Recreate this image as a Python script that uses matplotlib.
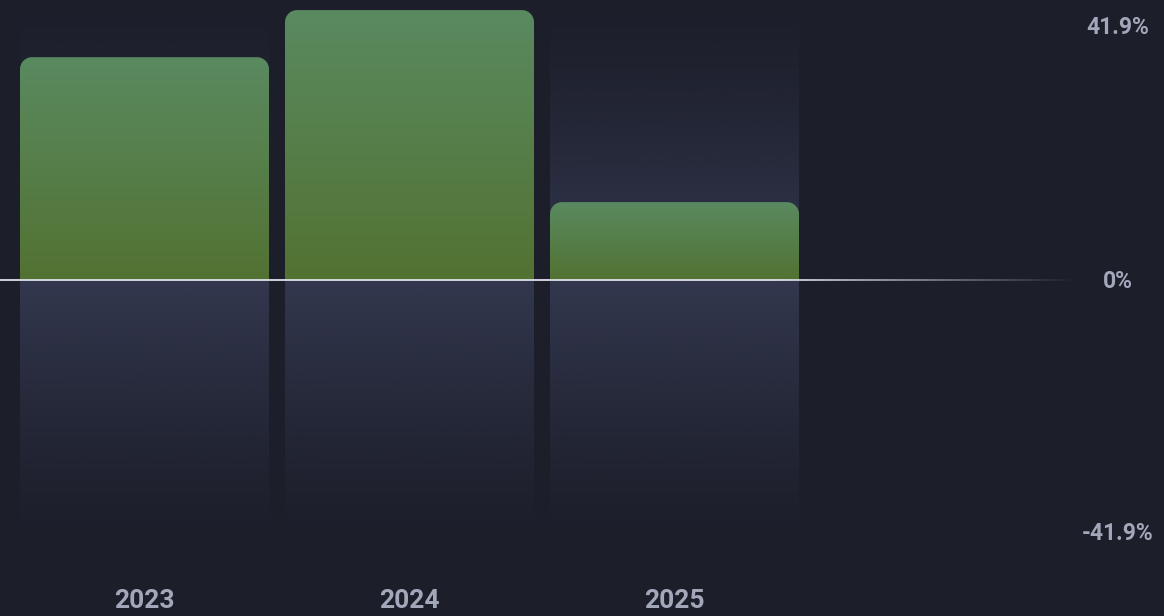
import matplotlib.pyplot as plt
import numpy as np
from matplotlib.path import Path
from matplotlib.patches import PathPatch
from matplotlib.collections import LineCollection

tahun = ["2023", "2024", "2025"]
nilai = [36.9, 44.7, 12.9]
label_y = [41.9, 0, -41.9]
teks_y = ["41.9%", "0%", "-41.9%"]

bg = "#1c1e2a"
warna_teks = "#a3a7ba"

fig = plt.figure(figsize=(11.64, 6.16), dpi=100, facecolor=bg)
ax = fig.add_axes([0, 0, 1, 1])
ax.set_facecolor(bg)

px_x = 1 / 265.0          # data units per pixel (x)
px_y = 41.9 / 253.0       # data units per pixel (y)
x0 = -144.5 * px_x
ax.set_xlim(x0, x0 + 1164 * px_x)
ax.set_ylim(-336 * px_y, 280 * px_y)
ax.axis("off")

lebar = 249 * px_x
y_atas = 280 * px_y
y_bawah = -265 * px_y

# kolom latar dengan gradasi
n = 400
ys = np.linspace(y_atas, y_bawah, n)
alpha = np.where(ys >= 0, 1 - ys / y_atas, 1 - ys / y_bawah)
alpha = np.clip(alpha, 0, 1) ** 1.3
kol = np.zeros((n, 1, 4))
kol[:, 0, 0] = 51 / 255
kol[:, 0, 1] = 56 / 255
kol[:, 0, 2] = 79 / 255
kol[:, 0, 3] = alpha
for i in range(len(tahun)):
    ax.imshow(kol, extent=[i - lebar / 2, i + lebar / 2, y_bawah, y_atas],
              aspect="auto", interpolation="bilinear", zorder=1)

# batang dengan gradasi hijau dan sudut atas membulat
c_atas = np.array([90, 138, 96]) / 255
c_bawah = np.array([82, 114, 50]) / 255
rx = 12 * px_x
ry = 12 * px_y
k = 0.5523
for i, v in enumerate(nilai):
    l, r = i - lebar / 2, i + lebar / 2
    verts = [(l, 0), (l, v - ry),
             (l, v - ry + k * ry), (l + rx - k * rx, v), (l + rx, v),
             (r - rx, v),
             (r - rx + k * rx, v), (r, v - ry + k * ry), (r, v - ry),
             (r, 0), (l, 0)]
    codes = [Path.MOVETO, Path.LINETO,
             Path.CURVE4, Path.CURVE4, Path.CURVE4,
             Path.LINETO,
             Path.CURVE4, Path.CURVE4, Path.CURVE4,
             Path.LINETO, Path.CLOSEPOLY]
    patch = PathPatch(Path(verts, codes), facecolor="none", edgecolor="none")
    ax.add_patch(patch)
    t = np.linspace(0, 1, 200)[:, None]
    grad = (c_atas * (1 - t) + c_bawah * t)[:, None, :]
    im = ax.imshow(grad, extent=[l, r, 0, v], aspect="auto",
                   interpolation="bilinear", zorder=2)
    im.set_clip_path(patch)

# garis nol memudar ke kanan
xs = np.linspace(x0, x0 + 1075 * px_x, 300)
seg = [[(xs[j], 0), (xs[j + 1], 0)] for j in range(len(xs) - 1)]
xp = (xs[:-1] - x0) / px_x
a = np.clip((1075 - xp) / 300, 0, 1)
warna = [(0.88, 0.88, 0.92, aa) for aa in a]
ax.add_collection(LineCollection(seg, colors=warna, linewidths=1.3, zorder=3))

for i, t in enumerate(tahun):
    ax.text(i, -336 * px_y + 15 * px_y, t, ha="center", va="center",
            color=warna_teks, fontsize=19, fontweight="bold", family="Roboto")

for v, s in zip(label_y, teks_y):
    ax.text(x0 + 1118 * px_x, v - 1 * px_y, s, ha="center", va="center",
            color=warna_teks, fontsize=16.5, fontweight="bold", family="Roboto")

fig.savefig("out.png", dpi=100, facecolor=bg)
